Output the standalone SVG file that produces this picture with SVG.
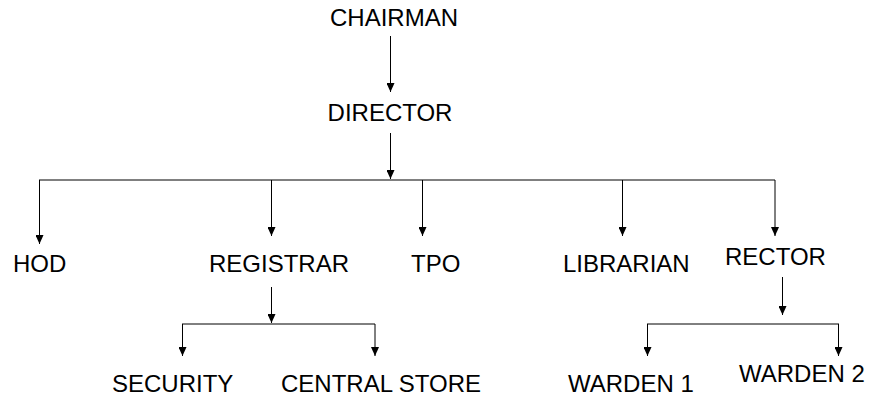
<svg xmlns="http://www.w3.org/2000/svg" width="869" height="399" viewBox="0 0 869 399">
<style>
text{font-family:"Liberation Sans",Arial,sans-serif;font-size:24px;fill:#000}
.c{stroke:#000;stroke-width:1;fill:none}
.a{marker-end:url(#ah)}
</style>
<defs>
<marker id="ah" markerWidth="9" markerHeight="8" refX="9" refY="4" orient="auto" markerUnits="userSpaceOnUse" viewBox="0 0 9 8">
<path d="M0,0 L9,4 L0,8 Z" fill="#000"/>
</marker>
</defs>
<rect width="869" height="399" fill="#fff"/>
<g id="connectors">
<line class="c a" x1="390.5" y1="36" x2="390.5" y2="92"/>
<line class="c a" x1="390.5" y1="133" x2="390.5" y2="179"/>
<line class="c" x1="39" y1="180" x2="775" y2="180"/>
<line class="c a" x1="39.5" y1="180" x2="39.5" y2="244"/>
<line class="c a" x1="271.5" y1="180" x2="271.5" y2="236"/>
<line class="c a" x1="422.5" y1="180" x2="422.5" y2="236"/>
<line class="c a" x1="622.5" y1="180" x2="622.5" y2="236"/>
<line class="c a" x1="775" y1="180" x2="775" y2="236"/>
<line class="c a" x1="271.5" y1="287" x2="271.5" y2="323"/>
<line class="c" x1="182" y1="324" x2="375" y2="324"/>
<line class="c a" x1="182.5" y1="324" x2="182.5" y2="356"/>
<line class="c a" x1="375" y1="324" x2="375" y2="356"/>
<line class="c a" x1="782.5" y1="277" x2="782.5" y2="315"/>
<line class="c" x1="647" y1="324" x2="839" y2="324"/>
<line class="c a" x1="647.5" y1="324" x2="647.5" y2="356"/>
<line class="c a" x1="838.5" y1="324" x2="838.5" y2="356"/>
</g>
<g id="chairman"><text x="394" y="26" text-anchor="middle">CHAIRMAN</text></g>
<g id="director"><text x="390" y="121" text-anchor="middle">DIRECTOR</text></g>
<g id="hod"><text x="13" y="272">HOD</text></g>
<g id="registrar"><text x="209" y="272">REGISTRAR</text></g>
<g id="tpo"><text x="411" y="272">TPO</text></g>
<g id="librarian"><text x="563" y="272">LIBRARIAN</text></g>
<g id="rector"><text x="725" y="265">RECTOR</text></g>
<g id="security"><text x="112" y="392">SECURITY</text></g>
<g id="central"><text x="281" y="392">CENTRAL STORE</text></g>
<g id="warden1"><text x="568" y="392">WARDEN 1</text></g>
<g id="warden2"><text x="739" y="382">WARDEN 2</text></g>
</svg>
